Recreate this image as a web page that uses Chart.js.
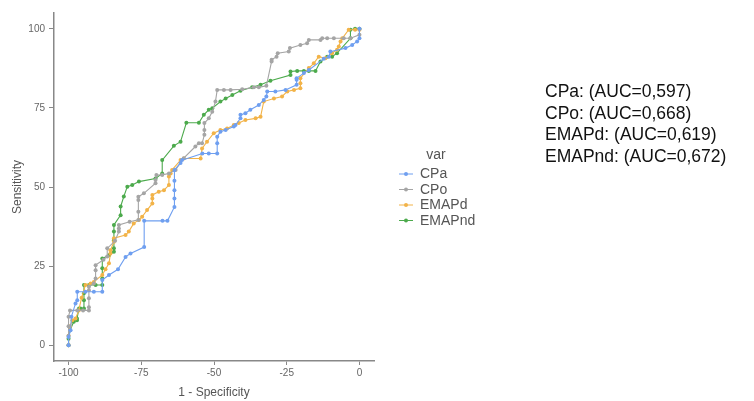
<!DOCTYPE html>
<html>
<head>
<meta charset="utf-8">
<script src="https://cdn.jsdelivr.net/npm/chart.js@4.4.1/dist/chart.umd.min.js"></script>
<style>
  html, body { margin: 0; padding: 0; background: #fff; }
  #wrap { position: relative; width: 754px; height: 401px; }
  #auc { position: absolute; left: 545px; top: 81px; font-family: "Liberation Sans", Arial, sans-serif;
         font-size: 17.5px; line-height: 21.7px; color: #111; }
</style>
</head>
<body>
<div id="wrap">
  <canvas id="myChart" width="754" height="401"></canvas>
  <div id="auc"></div>
</div>
<script>
// ROC points, [1 - specificity, sensitivity]
const cpa = [[-100,0],[-100,2.6],[-99.3,4.7],[-99,9],[-97.6,13.2],[-97,14.2],[-97,16.9],[-94.2,16.9],[-91.3,16.9],[-88.4,16.9],
  [-88.4,20.6],[-86.1,22.2],[-83,24],[-80.4,27.9],[-78.7,29],[-74,31],[-74,39.3],[-67.7,39.3],[-66,39.3],[-63.6,43.7],
  [-63.6,46.4],[-63.6,49],[-63.6,52],[-63.6,55.4],[-61.5,57.6],[-61,58.5],[-54,60.6],[-51.8,60.6],[-48.9,60.6],[-48.9,63.8],
  [-48.9,65.9],[-47.8,67.5],[-46,68],[-43.2,69.1],[-42.6,69.6],[-40.9,71.7],[-40.9,72.8],[-39.2,73.3],[-37.5,74.4],[-34.6,75.9],
  [-32.9,77.5],[-32,78.6],[-31.7,80.2],[-28.9,80.2],[-25.4,80.7],[-21.6,82.3],[-21.6,83.9],[-21.6,84.4],[-19.1,86],[-17.4,87],
  [-12.3,90.5],[-10.5,91.2],[-10,92.8],[-4.8,93.9],[-2.5,94.9],[-0.8,96],[0,97],[0,100]];
const cpo = [[-100,0],[-100,3],[-100,6],[-100,9],[-99.5,11],[-97,11],[-95,11],[-93,11],[-93,12],[-93,14.8],
  [-93,17.4],[-93,18.5],[-91.3,19.5],[-90.7,21.1],[-90.7,23.7],[-90.7,25.3],[-88,27],[-86.7,28],[-86.7,30.6],[-84,33],
  [-82.7,35.9],[-82.7,36.9],[-82.7,38],[-79,39],[-76,39.6],[-76,42.2],[-76,45.9],[-76,46.9],[-74.1,48],[-70.1,51.2],
  [-70.1,52.2],[-69.8,53.8],[-67.8,53.8],[-65.5,54.3],[-63.2,55.4],[-60.4,59.1],[-56.4,62.8],[-55.2,63.8],[-54.1,63.8],[-53.3,66.5],
  [-53.3,68],[-53.3,70.2],[-51.8,71.7],[-50.6,73.8],[-49.5,77],[-48.9,80.7],[-46.6,80.7],[-44.3,80.7],[-40.3,80.9],[-36.3,81.5],
  [-34.6,81.5],[-32,82],[-30.2,89.7],[-30.2,90.2],[-28.5,91.2],[-28.1,92.3],[-24.3,92.8],[-23.9,93.9],[-20.3,94.9],[-18,95.4],
  [-17.4,96.5],[-13.4,96.5],[-12.8,97],[-11.1,97],[-8.8,97],[-5.4,97],[-3.1,97],[0,98.1],[0,100]];
const emapd = [[-100,0],[-100,3],[-99.5,6],[-98.7,7.9],[-97.6,8.4],[-96.5,11],[-95.5,15],[-94.2,19],[-92.4,19.5],[-91.3,20],
  [-88.4,22.2],[-87.3,24],[-86.1,25.9],[-85.6,29],[-85.6,30],[-84.4,32.7],[-84.4,33.8],[-80.4,34.8],[-79.3,35.9],[-77.6,38.5],
  [-75.8,39.6],[-74.7,40.6],[-73,42.7],[-71.2,44.8],[-71.2,46.4],[-71.2,47.5],[-69,48.5],[-67.2,49],[-65.5,50.6],[-65.5,53.3],
  [-64.9,54.3],[-64.4,55.4],[-61.5,58.5],[-60.4,59],[-54.6,59],[-54.1,62.2],[-52.4,64.3],[-50.1,67],[-47.8,68],[-45.5,68.5],
  [-43.2,69.6],[-41.5,70.2],[-39.2,71.2],[-35.7,71.7],[-34,72.2],[-32.9,77],[-29.4,78],[-26.6,78.6],[-24.8,80.2],[-22.5,80.7],
  [-20.3,81.2],[-20.3,82.8],[-20.3,84.4],[-17.4,87.6],[-15.7,89.1],[-14,91.2],[-11.7,90.7],[-9.4,92.3],[-7.7,93.4],[-7.1,94.4],
  [-6.5,96],[-5.9,97],[-3.7,99.7],[-1.5,99.7],[0,99.7]];
const emapnd = [[-100,0],[-100,2],[-99.5,4.7],[-98.2,7.4],[-97.1,7.9],[-97.1,8.4],[-96.4,11.6],[-95.9,11.6],[-94.7,11.6],[-94.7,14.2],
  [-94.7,16.4],[-94.7,19],[-93,19],[-90.7,19],[-88.4,19],[-88.4,21.1],[-88.4,24.3],[-88.4,27.4],[-86,28.5],[-84.4,29.5],
  [-84.4,30.6],[-84.4,33.2],[-84.4,35.9],[-84.4,38],[-82.1,41.1],[-82.1,43.8],[-81,47],[-79.8,50.1],[-78.1,50.6],[-75.8,51.7],
  [-70.1,52.7],[-67.8,54.3],[-67.8,58.5],[-63.8,63],[-61.5,64.3],[-59.5,70.3],[-55.2,70.3],[-53.5,72.8],[-51.8,74.4],[-50.6,74.9],
  [-47.8,77],[-46,78],[-43.7,79.1],[-40.9,80.4],[-36.9,81.5],[-34,82.3],[-30.6,83.6],[-23.7,85.4],[-23.7,86.5],[-21.4,86.7],
  [-19.1,86.7],[-17.4,86.7],[-15.1,86.7],[-13.4,89.7],[-11.1,91.2],[-9.4,91.2],[-7.7,92.3],[-3.1,97],[-3.1,99.7],[-1.5,100],[0,100]];

const seriesNames = ["CPa", "CPo", "EMAPd", "EMAPnd"];
const seriesColors = ["#6f9ff0", "#a5a5a5", "#f2b348", "#4caa4c"];
const aucValues = ["0,597", "0,668", "0,619", "0,672"];
const xTicks = [-100, -75, -50, -25, 0];
const yTicks = [0, 25, 50, 75, 100];

const FONT = '"Liberation Sans", Arial, sans-serif';

document.getElementById("auc").innerHTML = seriesNames
  .map((n, i) => n + ": (AUC=" + aucValues[i] + ")").join("<br>");

const toPts = (arr) => arr.map((p) => ({ x: p[0], y: p[1] }));
const allSeries = [cpa, cpo, emapd, emapnd];

const datasets = allSeries.map((s, i) => ({
  label: seriesNames[i],
  data: toPts(s),
  showLine: true,
  borderColor: seriesColors[i],
  backgroundColor: seriesColors[i],
  borderWidth: 1.1,
  pointRadius: 2,
  pointBorderWidth: 0,
  tension: 0,
}));

// legend drawn by hand so it can sit where ggplot put it
const sideLegend = {
  id: "sideLegend",
  afterDraw(chart) {
    const ctx = chart.ctx;
    ctx.save();
    ctx.font = "14px " + FONT;
    ctx.fillStyle = "#555";
    ctx.textBaseline = "middle";
    ctx.textAlign = "center";
    ctx.fillText("var", 436, 155);
    ctx.textAlign = "left";
    seriesNames.forEach((name, i) => {
      const y = 174 + i * 15.5;
      ctx.strokeStyle = seriesColors[i];
      ctx.lineWidth = 1;
      ctx.beginPath();
      ctx.moveTo(399, y);
      ctx.lineTo(413, y);
      ctx.stroke();
      ctx.fillStyle = seriesColors[i];
      ctx.beginPath();
      ctx.arc(406, y, 2, 0, Math.PI * 2);
      ctx.fill();
      ctx.fillStyle = "#555";
      ctx.fillText(name, 420, y + 0.5);
    });
    ctx.restore();
  },
};

const config = {
  type: "scatter",
  data: { datasets: datasets },
  plugins: [sideLegend],
  options: {
    responsive: false,
    animation: false,
    layout: { padding: { top: 13, right: 380, left: 0, bottom: 0 } },
    plugins: { legend: { display: false }, tooltip: { enabled: false } },
    scales: {
      x: {
        type: "linear",
        min: -105,
        max: 5,
        afterFit: (s) => { s.height = 40; },
        afterBuildTicks: (s) => { s.ticks = xTicks.map((v) => ({ value: v })); },
        grid: { drawOnChartArea: false, drawTicks: true, tickLength: 4, color: "#888" },
        border: { color: "#888", width: 1.5 },
        ticks: { color: "#666", font: { family: FONT, size: 10 }, padding: 2 },
        title: { display: true, text: "1 - Specificity", color: "#555", font: { family: FONT, size: 12 }, padding: { top: 0, bottom: 1 } },
      },
      y: {
        type: "linear",
        min: -5,
        max: 105,
        afterFit: (s) => { s.width = 54; },
        afterBuildTicks: (s) => { s.ticks = yTicks.map((v) => ({ value: v })); },
        grid: { drawOnChartArea: false, drawTicks: true, tickLength: 5, color: "#888" },
        border: { color: "#888", width: 1.5 },
        ticks: { color: "#666", font: { family: FONT, size: 10 }, padding: 4 },
        title: { display: true, text: "Sensitivity", color: "#555", font: { family: FONT, size: 12 }, padding: { top: 10, bottom: 0 } },
      },
    },
  },
};

new Chart(document.getElementById("myChart"), config);
</script>
</body>
</html>
